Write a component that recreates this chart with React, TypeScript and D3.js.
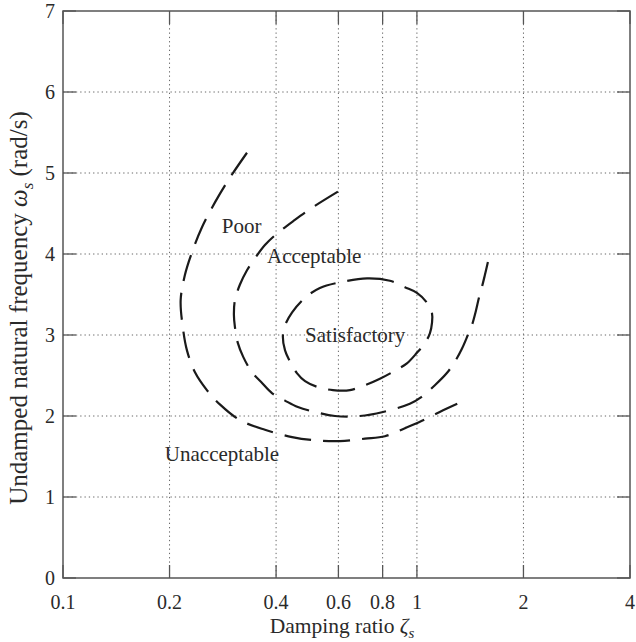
import React from "react";
import * as d3 from "d3";

const W = 636;
const H = 642;

const xTicks = [0.1, 0.2, 0.4, 0.6, 0.8, 1, 2, 4];
const xTickLabels = ["0.1", "0.2", "0.4", "0.6", "0.8", "1", "2", "4"];
const xGrid = [0.2, 0.4, 0.6, 0.8, 1, 2];
const yTicks = [0, 1, 2, 3, 4, 5, 6, 7];
const yGrid = [1, 2, 3, 4, 5, 6];

// Poor / Unacceptable boundary
const outerZeta = [0.331, 0.296, 0.269, 0.247, 0.231, 0.221, 0.215, 0.218, 0.224, 0.236, 0.255, 0.278, 0.316, 0.372, 0.444, 0.515, 0.606, 0.713, 0.812, 0.925, 1.02, 1.16, 1.3];
const outerOmega = [5.25, 4.94, 4.64, 4.33, 4.01, 3.74, 3.43, 3.1, 2.81, 2.54, 2.32, 2.14, 1.95, 1.83, 1.74, 1.7, 1.69, 1.72, 1.75, 1.85, 1.93, 2.05, 2.15];

// Acceptable / Poor boundary
const midZeta = [0.598, 0.505, 0.452, 0.397, 0.372, 0.349, 0.331, 0.316, 0.306, 0.304, 0.306, 0.312, 0.323, 0.342, 0.363, 0.39, 0.424, 0.461, 0.515, 0.587, 0.69, 0.802, 0.955, 1.026, 1.124, 1.215, 1.28, 1.34, 1.393, 1.43, 1.468, 1.497, 1.526, 1.556, 1.587];
const midOmega = [4.77, 4.57, 4.42, 4.23, 4.11, 3.95, 3.8, 3.62, 3.43, 3.25, 3.1, 2.9, 2.73, 2.54, 2.42, 2.28, 2.19, 2.11, 2.05, 2.0, 2.0, 2.05, 2.15, 2.23, 2.38, 2.53, 2.67, 2.83, 3.0, 3.12, 3.3, 3.46, 3.59, 3.74, 3.9];

// Satisfactory region (closed)
const innerZeta = [0.606, 0.723, 0.839, 0.925, 1.0, 1.067, 1.103, 1.103, 1.088, 1.053, 1.0, 0.937, 0.867, 0.786, 0.713, 0.647, 0.579, 0.522, 0.483, 0.458, 0.438, 0.424, 0.418, 0.424, 0.444, 0.483, 0.532];
const innerOmega = [3.65, 3.7, 3.67, 3.59, 3.52, 3.4, 3.27, 3.15, 3.02, 2.9, 2.78, 2.65, 2.56, 2.46, 2.38, 2.32, 2.32, 2.36, 2.43, 2.53, 2.67, 2.81, 2.98, 3.12, 3.28, 3.46, 3.58];

const regionNames = ["Poor", "Acceptable", "Satisfactory", "Unacceptable"];
const regionZeta = [0.281, 0.377, 0.483, 0.194];
const regionOmega = [4.26, 3.89, 2.91, 1.44];

const left = 63, right = 630, top = 11, bottom = 578;
const FONT = "'Liberation Serif', 'Times New Roman', serif";
const AXIS = "#555";
const TEXT = "#2a2a2a";

export default function App() {
  const x = d3.scaleLog().domain([0.1, 4]).range([left, right]);
  const y = d3.scaleLinear().domain([0, 7]).range([bottom, top]);

  const open = d3
    .line<[number, number]>()
    .x((d) => x(d[0]))
    .y((d) => y(d[1]))
    .curve(d3.curveCatmullRom.alpha(0.5));
  const closed = d3
    .line<[number, number]>()
    .x((d) => x(d[0]))
    .y((d) => y(d[1]))
    .curve(d3.curveCatmullRomClosed.alpha(0.5));

  const zip = (a: number[], b: number[]) => a.map((v, i) => [v, b[i]] as [number, number]);
  const curveStyle = {
    fill: "none",
    stroke: "#1a1a1a",
    strokeWidth: 2.2,
    strokeDasharray: "27 12",
  };
  const tickLen = 13;

  return (
    <svg
      width={W}
      height={H}
      style={{ position: "absolute", left: 0, top: 0, background: "#fff" }}
      fontFamily={FONT}
    >
      <rect x={0} y={0} width={W} height={H} fill="#fff" />
      {/* grid */}
      {xGrid.map((v) => (
        <line key={"gx" + v} x1={x(v)} x2={x(v)} y1={top} y2={bottom} stroke="#666" strokeWidth={1} strokeDasharray="1.3 3" />
      ))}
      {yGrid.map((v) => (
        <line key={"gy" + v} x1={left} x2={right} y1={y(v)} y2={y(v)} stroke="#666" strokeWidth={1} strokeDasharray="1.3 3" />
      ))}
      {/* ticks */}
      {xTicks.map((v) => (
        <g key={"tx" + v}>
          <line x1={x(v)} x2={x(v)} y1={bottom} y2={bottom - tickLen} stroke={AXIS} strokeWidth={1.3} />
          <line x1={x(v)} x2={x(v)} y1={top} y2={top + tickLen} stroke={AXIS} strokeWidth={1.3} />
        </g>
      ))}
      {yTicks.map((v) => (
        <g key={"ty" + v}>
          <line x1={left} x2={left + tickLen} y1={y(v)} y2={y(v)} stroke={AXIS} strokeWidth={1.3} />
          <line x1={right} x2={right - tickLen} y1={y(v)} y2={y(v)} stroke={AXIS} strokeWidth={1.3} />
        </g>
      ))}
      <rect x={left} y={top} width={right - left} height={bottom - top} fill="none" stroke={AXIS} strokeWidth={1.5} />
      {/* tick labels */}
      {xTicks.map((v, i) => (
        <text key={"lx" + v} x={x(v)} y={bottom + 31} textAnchor="middle" fontSize={20} fill={TEXT}>
          {xTickLabels[i]}
        </text>
      ))}
      {yTicks.map((v) => (
        <text key={"ly" + v} x={left - 8} y={y(v)} dy="0.35em" textAnchor="end" fontSize={20} fill={TEXT}>
          {v}
        </text>
      ))}
      {/* axis titles */}
      <text x={342} y={633} textAnchor="middle" fontSize={21.5} fill={TEXT}>
        Damping ratio <tspan fontStyle="italic">ζ</tspan>
        <tspan fontStyle="italic" fontSize={15} dy={5}>s</tspan>
      </text>
      <text
        transform={`translate(27, 308) rotate(-90)`}
        textAnchor="middle"
        fontSize={25}
        fill={TEXT}
      >
        Undamped natural frequency <tspan fontStyle="italic">ω</tspan>
        <tspan fontStyle="italic" fontSize={17} dy={6}>s</tspan>
        <tspan dy={-6}> (rad/s)</tspan>
      </text>
      {/* curves */}
      <path d={open(zip(outerZeta, outerOmega)) || ""} style={curveStyle} />
      <path d={open(zip(midZeta, midOmega)) || ""} style={curveStyle} />
      <path d={closed(zip(innerZeta, innerOmega)) || ""} style={curveStyle} />
      {/* region labels */}
      {regionNames.map((n, i) => (
        <text key={n} x={x(regionZeta[i])} y={y(regionOmega[i])} fontSize={21} fill={TEXT}>
          {n}
        </text>
      ))}
    </svg>
  );
}
